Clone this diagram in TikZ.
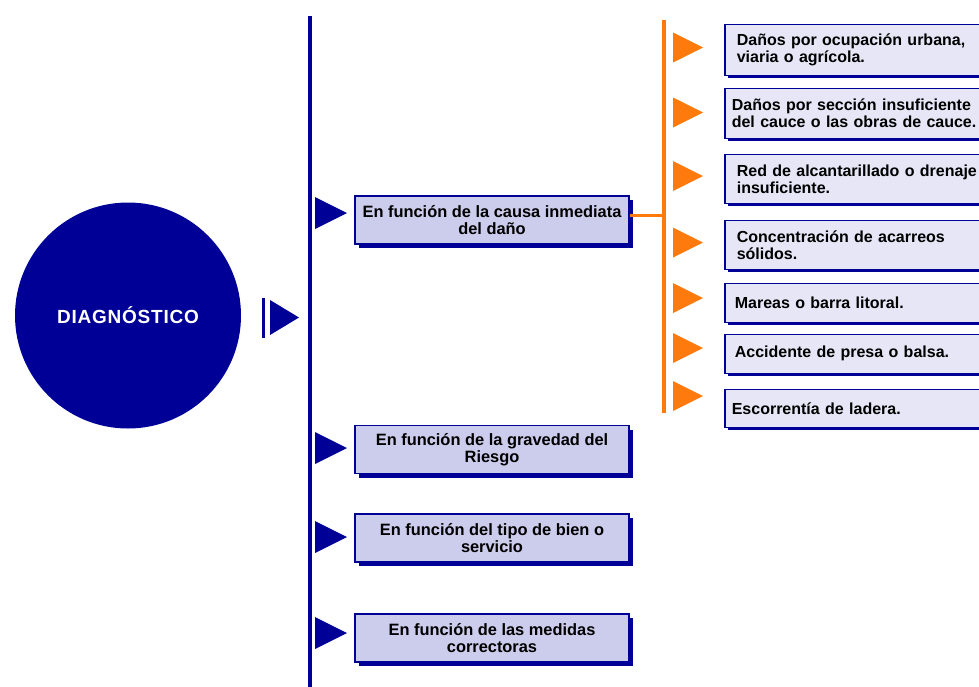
\documentclass[tikz,border=0pt]{standalone}
\usepackage{fontspec}
\setmainfont{Liberation Sans}
\usetikzlibrary{positioning,shadows}

\definecolor{azul}{RGB}{0,0,150}
\definecolor{lila}{RGB}{204,204,236}
\definecolor{lilaclaro}{RGB}{230,230,246}
\definecolor{naranja}{RGB}{255,122,12}

\begin{document}
\begin{tikzpicture}[x=1pt,y=-1pt,
    criterio/.style={draw=azul, line width=1.6pt, fill=lila, minimum width=274pt,
      minimum height=48pt, inner sep=2pt, align=center,
      font=\fontsize{16.4}{17}\selectfont\bfseries,
      drop shadow={shadow xshift=4pt, shadow yshift=-4pt, fill=azul, opacity=1}},
    causa/.style={draw=azul, line width=1.6pt, fill=lilaclaro, minimum height=50pt,
      text width=270pt, inner xsep=12pt, inner ysep=2pt, align=left, anchor=north west,
      font=\fontsize{16}{17}\selectfont\bfseries,
      drop shadow={shadow xshift=3pt, shadow yshift=-3pt, fill=azul, opacity=1}},
    causacorta/.style={causa, minimum height=39pt}
  ]
  \clip (0,0) rectangle (979,686);

  % diagnostico
  \node[circle, fill=azul, minimum size=226pt, inner sep=0pt, text=white,
    font=\fontsize{19}{21}\selectfont\bfseries\addfontfeature{LetterSpace=4}]
    (diag) at (128,315.5) {DIAGNÓSTICO};
  \fill[azul] (262,298) rectangle (265,338);
  \fill[azul] (270,300) -- (299,317.5) -- (270,335) -- cycle;

  % eje azul
  \coordinate (ejetop) at (310,16);
  \coordinate (ejebot) at (310,690);
  \draw[azul, line width=4pt] (ejetop) -- (ejebot);

  % criterios
  \node[criterio] (causa) at (492,220) {En función de la causa inmediata\\del daño};
  \node[criterio, below=180pt of causa] (gravedad) {En función de la gravedad del\\Riesgo};
  \node[criterio, below=39pt of gravedad] (tipo) {En función del tipo de bien o\\servicio};
  \node[criterio, below=50pt of tipo] (medidas) {En función de las medidas\\correctoras};

  \foreach \y in {213,448,537,633}
    \fill[azul] (315,\y-16) -- (347,\y) -- (315,\y+16) -- cycle;

  % eje naranja
  \coordinate (natop) at (664,20);
  \coordinate (nabot) at (664,413);
  \draw[naranja, line width=4pt] (natop) -- (nabot);
  \draw[naranja, line width=3pt] ([yshift=5pt]causa.east) -- ([yshift=5pt]causa.east -| natop);

  % causas inmediatas
  \node[causa, minimum height=51pt] (c1) at (724,23.5) {Daños por ocupación urbana,\\viaria o agrícola.};
  \node[causa] (c2) at (724,87.5) {\hspace*{-5pt}Daños por sección insuficiente\\\hspace*{-5pt}del cauce o las obras de cauce.};
  \node[causa, minimum height=49pt] (c3) at (724,153.5) {Red de alcantarillado o drenaje\\insuficiente.};
  \node[causa, minimum height=49pt] (c4) at (724,219.5) {Concentración de acarreos\\sólidos.};
  \node[causacorta] (c5) at (724,282.5) {\hspace*{-2pt}Mareas o barra litoral.};
  \node[causacorta] (c6) at (724,333.5) {\hspace*{-2pt}Accidente de presa o balsa.};
  \node[causacorta, minimum height=38pt] (c7) at (724,388.5) {\hspace*{-5pt}Escorrentía de ladera.};

  \foreach \y in {47.5,112.5,176,242.5,298,348,396}
    \fill[naranja] (673,\y-15) -- (703,\y) -- (673,\y+15) -- cycle;
\end{tikzpicture}
\end{document}
